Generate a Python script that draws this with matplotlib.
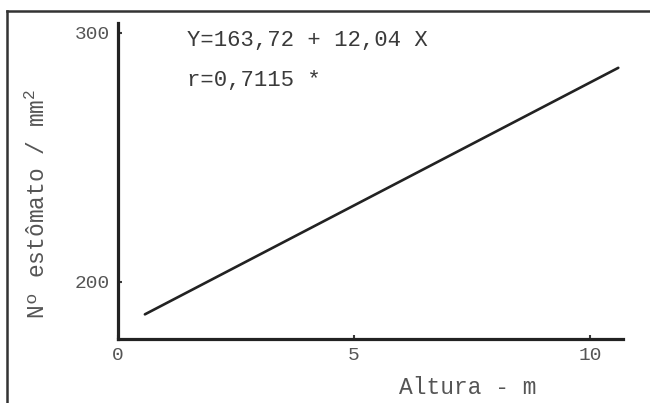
import matplotlib
matplotlib.use("Agg")
import matplotlib.pyplot as plt
from matplotlib.lines import Line2D

plt.rcParams['font.family'] = ['Liberation Mono', 'DejaVu Sans Mono']
plt.rcParams['mathtext.default'] = 'regular'

# regression line as drawn (altura in m, estomatos per mm2)
altura = [0.57, 10.6]
estomatos = [187, 286]

x_ticks = [0, 5, 10]
y_ticks = [200, 300]
equation = "Y=163,72 + 12,04 X"
corr = "r=0,7115 *"

ink = "#3a3a3a"

fig = plt.figure(figsize=(6.5, 4.03), dpi=100)
ax = fig.add_axes([118 / 650, 64 / 403, 505 / 650, 316 / 403])

ax.plot(altura, estomatos, color="#222222", lw=1.9, solid_capstyle="round")

ax.set_xlim(0, 10.7)
ax.set_ylim(177.1, 304)
ax.set_xticks(x_ticks)
ax.set_yticks(y_ticks)
ax.tick_params(direction="in", length=3, width=1.5, colors=ink, labelsize=14, pad=6)
for lab in ax.get_xticklabels() + ax.get_yticklabels():
    lab.set_color("#555555")

for side in ["top", "right"]:
    ax.spines[side].set_visible(False)
for side in ["left", "bottom"]:
    ax.spines[side].set_linewidth(2.3)
    ax.spines[side].set_color("#222222")

ax.set_xlabel("Altura - m", fontsize=16.5, color="#555555")
ax.xaxis.set_label_coords(350 / 505, -37 / 316)
ax.set_ylabel("Nº estômato / mm$^{2}$", fontsize=16.5, color="#555555")
ax.yaxis.set_label_coords(-68 / 505, (339 - 204) / 316)

fig.text(187 / 650, 1 - 40 / 403, equation, fontsize=16, color=ink, va="center")
fig.text(187 / 650, 1 - 81 / 403, corr, fontsize=16, color=ink, va="center")

# outer frame (scanned page border)
fig.add_artist(Line2D([7 / 650, 7 / 650], [0, 1 - 11 / 403], color="#333333", lw=1.8))
fig.add_artist(Line2D([7 / 650, 1], [1 - 11 / 403, 1 - 11 / 403], color="#333333", lw=1.8))

fig.savefig("out.png", dpi=100)
